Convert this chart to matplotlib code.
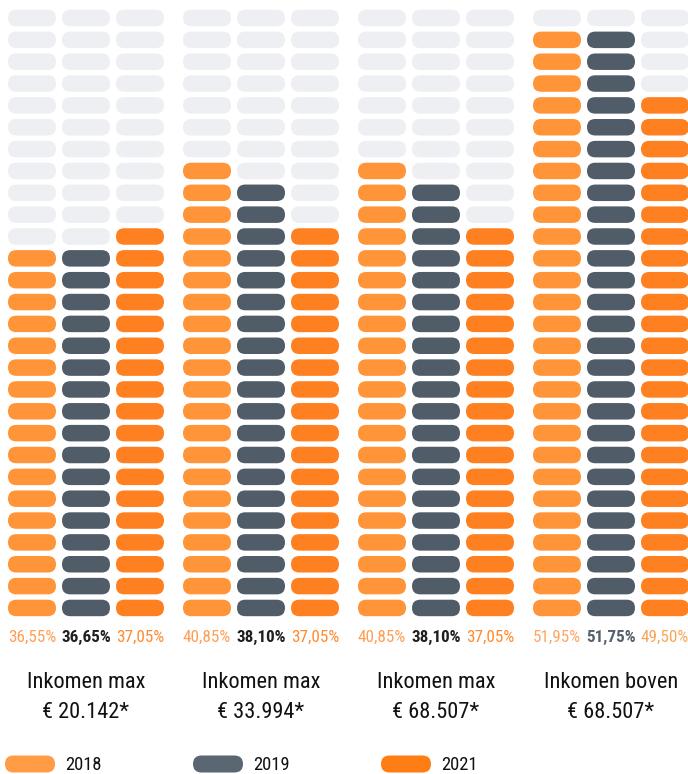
import matplotlib
matplotlib.use("Agg")
import matplotlib.pyplot as plt
from matplotlib.patches import FancyBboxPatch
from matplotlib import font_manager as fm

# ---------------- data ----------------
title_line1 = ["Inkomen max", "Inkomen max", "Inkomen max", "Inkomen boven"]
title_line2 = ["€ 20.142*", "€ 33.994*", "€ 68.507*", "€ 68.507*"]
years = ["2018", "2019", "2021"]
pills_2018 = [17, 21, 21, 27]
pills_2019 = [17, 20, 20, 27]
pills_2021 = [18, 18, 18, 24]
pct_2018 = ["36,55%", "40,85%", "40,85%", "51,95%"]
pct_2019 = ["36,65%", "38,10%", "38,10%", "51,75%"]
pct_2021 = ["37,05%", "37,05%", "37,05%", "49,50%"]
total_rows = 28

# ---------------- style ----------------
col_colors = ["#FF9538", "#505C68", "#FF8020"]
legend_colors = ["#FF9C45", "#5A6672", "#FF7D15"]
grey = "#EDEFF2"
pct_colors = [["#FF9E55", "#1F1F1F", "#FF8A2E"]] * 3 + [["#FFA565", "#56606B", "#F7A65A"]]
pct_weights = ["normal", "bold", "normal"]

names = {f.name for f in fm.fontManager.ttflist}
font = "DejaVu Sans"
scale = 0.78
for cand, sc in [("Liberation Sans Narrow", 1.0), ("DejaVu Sans Condensed", 0.88),
                 ("Roboto Condensed", 0.95), ("Open Sans Condensed", 0.95)]:
    if cand in names:
        font, scale = cand, sc
        break
plt.rcParams["font.family"] = [font, "DejaVu Sans"]

W, H = 688, 774
fig = plt.figure(figsize=(W / 100, H / 100), dpi=100)
ax = fig.add_axes([0, 0, 1, 1])
ax.set_xlim(0, W)
ax.set_ylim(H, 0)
ax.axis("off")

x0 = 8.0
col_pitch = 54.0
group_pitch = 175.0
pill_w = 48.0
pill_h = 16.5
row0 = 18.0
row_pitch = 21.85


def pill(x, yc, color):
    p = FancyBboxPatch((x, yc - pill_h / 2), pill_w, pill_h,
                       boxstyle="round,pad=0,rounding_size=%f" % (pill_h / 2),
                       fc=color, ec="none", lw=0)
    ax.add_patch(p)


series = [pills_2018, pills_2019, pills_2021]
pcts = [pct_2018, pct_2019, pct_2021]
for g in range(len(title_line1)):
    gx = x0 + g * group_pitch
    for c in range(3):
        cx = gx + c * col_pitch
        n = series[c][g]
        for r in range(total_rows):
            yc = row0 + r * row_pitch
            filled = r >= total_rows - n
            pill(cx, yc, col_colors[c] if filled else grey)
        ax.text(cx + pill_w / 2, 637, pcts[c][g], ha="center", va="center",
                fontsize=13 * scale, color=pct_colors[g][c], fontweight=pct_weights[c])
    center = gx + (2 * col_pitch + pill_w) / 2
    ax.text(center, 683, title_line1[g], ha="center", va="center",
            fontsize=17 * scale, color="#111111")
    ax.text(center, 712, title_line2[g], ha="center", va="center",
            fontsize=17 * scale, color="#111111")

# legend
leg_x = [5, 193, 381]
for i, y in enumerate(years):
    p = FancyBboxPatch((leg_x[i], 764 - 8.5), 50, 17,
                       boxstyle="round,pad=0,rounding_size=8.5",
                       fc=legend_colors[i], ec="none")
    ax.add_patch(p)
    ax.text(leg_x[i] + 60, 765, y, ha="left", va="center",
            fontsize=14 * scale, color="#111111")

fig.savefig("out.png", dpi=100)
